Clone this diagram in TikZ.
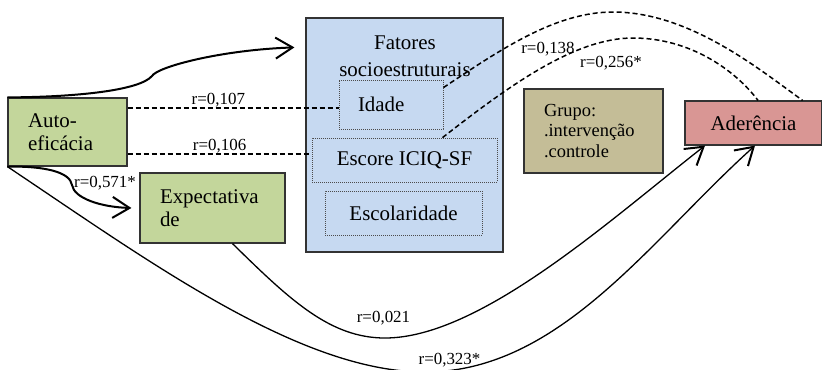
\documentclass[tikz,border=0pt]{standalone}
\usepackage{fontspec}
\setmainfont{Liberation Serif}
\usetikzlibrary{arrows.meta}
\definecolor{verde}{HTML}{C3D69B}
\definecolor{azul}{HTML}{C6D9F1}
\definecolor{bege}{HTML}{C4BD97}
\definecolor{rosa}{HTML}{D99694}
\begin{document}
\begin{tikzpicture}[x=1bp, y=-1bp, line width=1.3bp,
  >={Straight Barb[length=17bp,width=21bp,line width=2bp]},
  font=\fontsize{21}{23}\selectfont,
  caixa/.style={draw=black!80, line width=1.2bp, inner sep=0pt},
  pontilhada/.style={draw=black!70, line width=0.8bp, dash pattern=on 1bp off 1bp, inner sep=0pt},
  corr/.style={line width=1.5bp, dash pattern=on 5bp off 3bp},
  rotulo/.style={font=\fontsize{17}{19}\selectfont, inner sep=0pt}]
\useasboundingbox (0,0) rectangle (822,369);
%
\node[caixa, fill=verde, align=left, text width=79bp, inner xsep=20bp, minimum height=68bp] (auto) at (67.5,132) {Auto-\\eficácia};
\node[caixa, fill=verde, align=left, text width=105bp, inner xsep=20bp, minimum height=70bp] (expec) at (212.5,208) {Expectativa\\de};
%
\node[caixa, fill=azul, minimum width=197bp, minimum height=234bp] (fat) at (404.5,135) {};
\node[align=center, inner sep=0pt, font=\fontsize{21}{27}\selectfont] (fattit) at (405,56) {Fatores\\socioestruturais};
\node[pontilhada, align=left, text width=66bp, inner xsep=19bp, minimum height=49bp] (ida) at (391,104.5) {Idade};
\node[pontilhada, minimum width=185bp, minimum height=44bp] (esc) at (404.5,160) {Escore ICIQ-SF};
\node[pontilhada, minimum width=157bp, minimum height=44bp] (escol) at (403.5,213) {Escolaridade};
%
\node[caixa, fill=bege, align=left, text width=99bp, inner xsep=20bp, minimum height=84bp, font=\fontsize{18.5}{20.5}\selectfont] (grupo) at (593.5,131) {Grupo:\\.intervenção\\.controle};
\node[caixa, fill=rosa, minimum width=137bp, minimum height=44bp] (ader) at (753.5,123) {Aderência};
%
\coordinate (fatseta) at ([xshift=-11bp,yshift=-30bp]fat.north west);
\draw[->, line width=2bp] (auto.north west) .. controls (80,97) and (140,90) .. (152,76) .. controls (157,67) and (220,50) .. (fatseta);
%
\coordinate (a1) at ([yshift=24bp]auto.east);
\draw[corr] (a1) -- (a1 -| ida.west) node[rotulo, pos=.43, above=0.5bp] (l107) {r=0,107};
\coordinate (a2) at ([yshift=-22bp]auto.east);
\draw[corr] (a2) -- (a2 -| esc.west) node[rotulo, pos=.5, above=0.5bp] (l106) {r=0,106};
%
\draw[->, line width=2bp] (auto.south west) .. controls (45,166) and (70,172) .. (72,185) .. controls (74,198) and (100,207) .. ([xshift=-8bp]expec.west);
\node[rotulo, anchor=base] (l571) at (105,187) {r=0,571*};
%
\draw[->] (auto.south west) .. controls (150,262) and (300,372) .. (425,372) .. controls (560,372) and (650,240) .. ([xshift=1.5bp]ader.south);
\node[rotulo, anchor=base] (l323) at (449.5,364) {r=0,323*};
%
\draw[->] ([xshift=20bp]expec.south) .. controls (290,300) and (330,338) .. (385,338) .. controls (480,338) and (610,220) .. ([xshift=-48.5bp]ader.south);
\node[rotulo, anchor=base] (l021) at (383.5,322) {r=0,021};
%
\draw[corr] ([yshift=-8bp]ida.north east) .. controls (500,50) and (555,12) .. (613,12) .. controls (690,12) and (760,70) .. ([xshift=-20bp]ader.north east);
\node[rotulo, anchor=base] (l138) at (548,53) {r=0,138};
%
\draw[corr] ([xshift=38bp]esc.north) .. controls (510,85) and (575,38) .. (633,38) .. controls (690,38) and (735,70) .. ([xshift=4.5bp]ader.north);
\node[rotulo, anchor=base] (l256) at (611,67) {r=0,256*};
%
\end{tikzpicture}
\end{document}
